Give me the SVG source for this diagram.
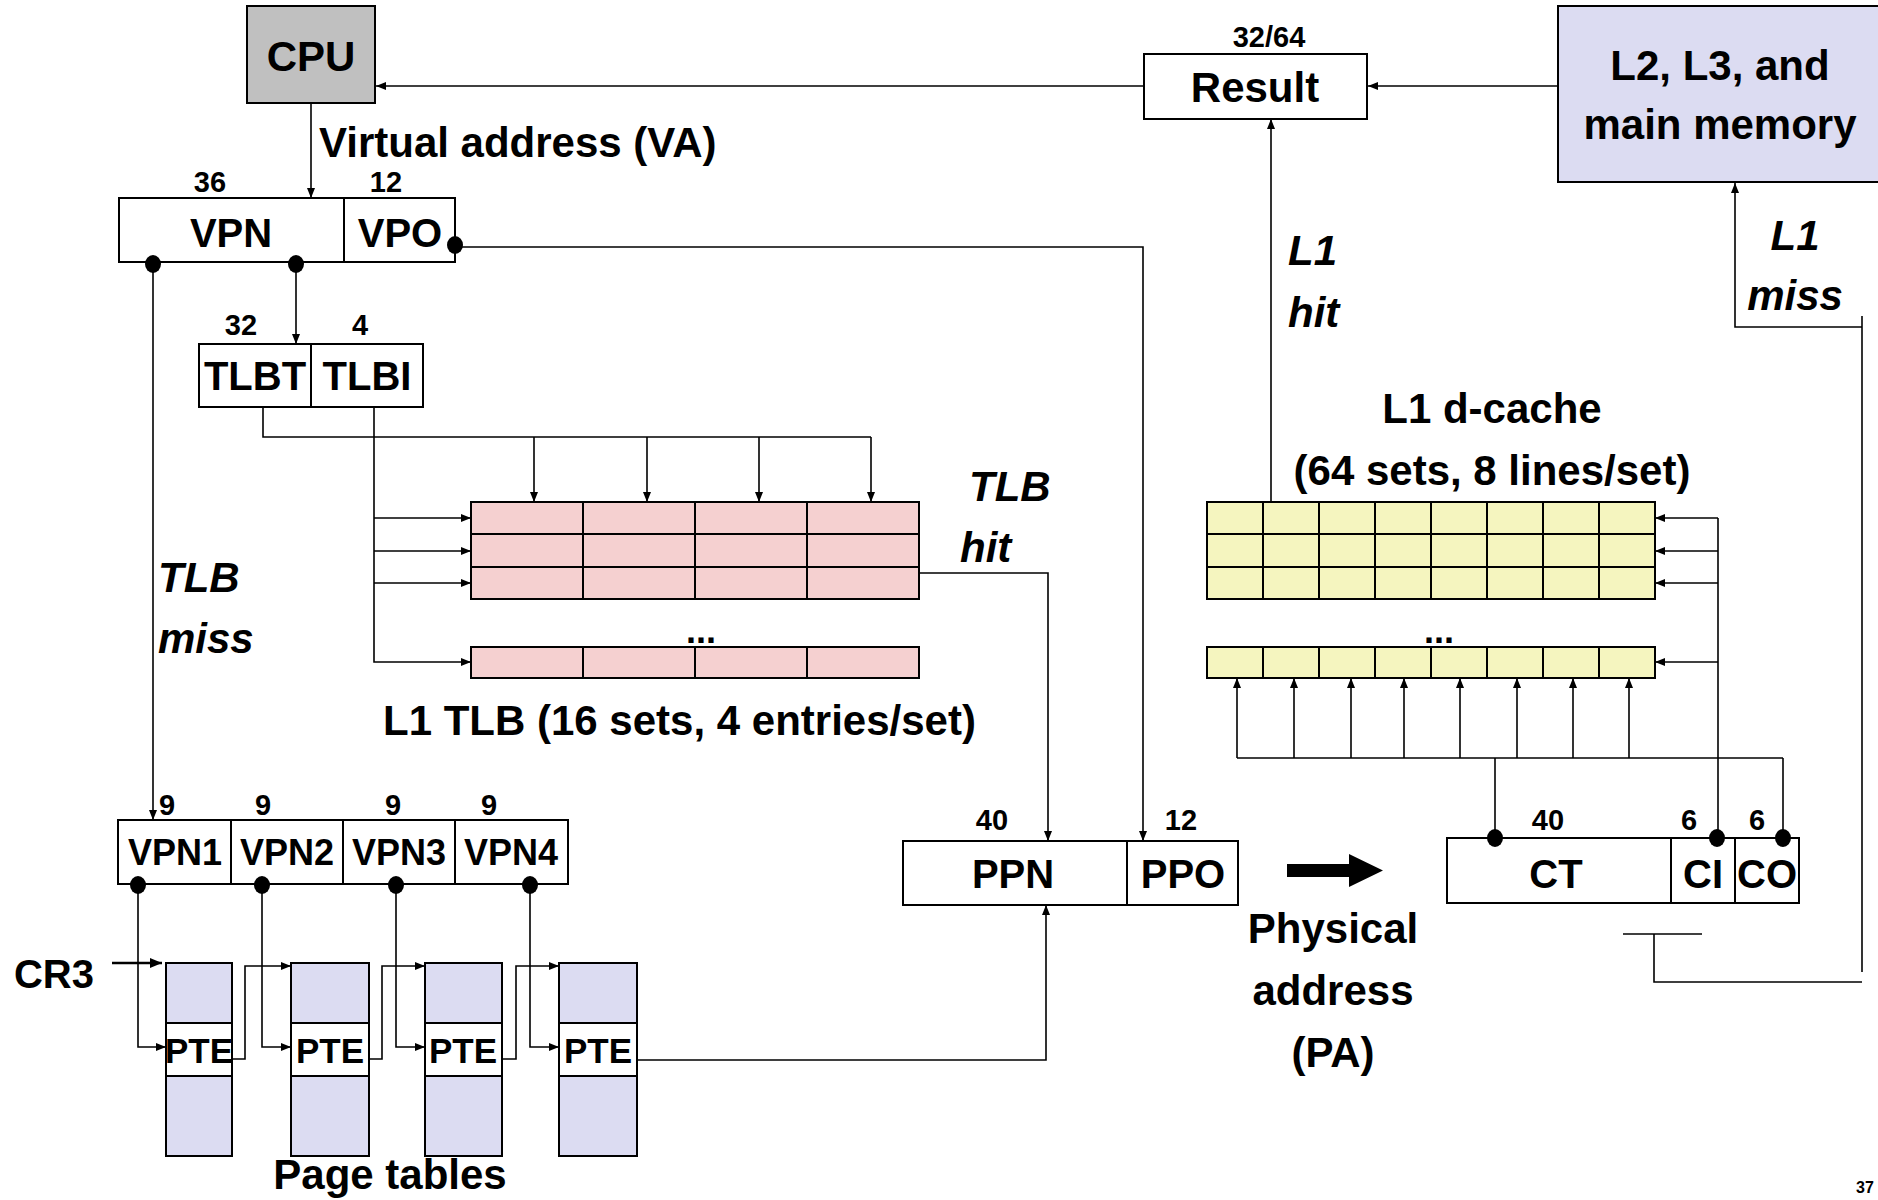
<svg xmlns="http://www.w3.org/2000/svg" width="1878" height="1200" viewBox="0 0 1878 1200">
<style>
text{font-family:"Liberation Sans",Arial,Helvetica,sans-serif;font-weight:bold;fill:#000}
.b{fill:#fff;stroke:#000;stroke-width:2}
.tl{fill:#f5d0d0;stroke:#000;stroke-width:2}
.ca{fill:#f5f5bf;stroke:#000;stroke-width:2}
.pt{fill:#dcdcf2;stroke:#000;stroke-width:2}
.c{fill:none;stroke:#000;stroke-width:1.6}
.a{marker-end:url(#ah)}
.t42{font-size:42px}
.t40{font-size:40px}
.t36{font-size:36px}
.n{font-size:29px}
.i{font-style:italic;font-size:42px}
.m{text-anchor:middle}
.d{fill:#000}
</style>
<defs>
<marker id="ah" markerUnits="userSpaceOnUse" markerWidth="10" markerHeight="8" refX="10" refY="4" orient="auto">
<path d="M0,0 L10,4 L0,8 z" fill="#000"/>
</marker>
<marker id="ahb" markerUnits="userSpaceOnUse" markerWidth="12" markerHeight="10" refX="12" refY="5" orient="auto">
<path d="M0,0 L12,5 L0,10 z" fill="#000"/>
</marker>
</defs>

<g id="connectors">
<path class="c a" d="M1144,86 H376"/>
<path class="c a" d="M1558,86 H1368"/>
<path class="c a" d="M311,103 V198"/>
<path class="c a" d="M296,262 V344"/>
<path class="c a" d="M153,262 V820"/>
<path class="c a" d="M455,247 H1143 V841"/>
<path class="c" d="M263,407 V437 H871"/>
<path class="c a" d="M534,437 V502"/>
<path class="c a" d="M647,437 V502"/>
<path class="c a" d="M759,437 V502"/>
<path class="c a" d="M871,437 V502"/>
<path class="c a" d="M374,407 V662 H471"/>
<path class="c a" d="M374,518 H471"/>
<path class="c a" d="M374,551 H471"/>
<path class="c a" d="M374,583 H471"/>
<path class="c a" d="M919,573 H1048 V841"/>
<path class="c a" d="M637,1060 H1046 V905"/>
<path class="c a" d="M138,884 V1047 H166"/>
<path class="c a" d="M262,884 V1047 H291"/>
<path class="c a" d="M396,884 V1047 H425"/>
<path class="c a" d="M530,884 V1047 H559"/>
<path class="c a" d="M232,1059 H245 V966 H291"/>
<path class="c a" d="M369,1059 H382 V966 H425"/>
<path class="c a" d="M502,1059 H516 V966 H559"/>
<path class="c" style="stroke-width:2.5;marker-end:url(#ahb)" d="M112,963 H162"/>
<path class="c a" d="M1271,502 V119"/>
<path class="c" d="M1495,838 V758"/>
<path class="c" d="M1783,838 V758"/>
<path class="c" d="M1237,758 H1783"/>
<path class="c a" d="M1237,758 V678"/>
<path class="c a" d="M1294,758 V678"/>
<path class="c a" d="M1351,758 V678"/>
<path class="c a" d="M1404,758 V678"/>
<path class="c a" d="M1460,758 V678"/>
<path class="c a" d="M1517,758 V678"/>
<path class="c a" d="M1573,758 V678"/>
<path class="c a" d="M1629,758 V678"/>
<path class="c" d="M1718,838 V518"/>
<path class="c a" d="M1718,518 H1655"/>
<path class="c a" d="M1718,551 H1655"/>
<path class="c a" d="M1718,583 H1655"/>
<path class="c a" d="M1718,662 H1655"/>
<path class="c a" d="M1862,327 H1735 V183"/>
<path class="c" d="M1862,316 V972"/>
<path class="c" d="M1862,982 H1654 V934"/>
<path class="c" d="M1623,934 H1702"/>
<path class="d" d="M1287,864 H1349 V854 L1383,870.5 L1349,887 V877 H1287 z"/>
</g>

<g id="cpu">
<rect x="247" y="6" width="128" height="97" fill="#c0c0c0" stroke="#000" stroke-width="2"/>
<text class="t42 m" x="311" y="71">CPU</text>
</g>

<g id="result">
<rect class="b" x="1144" y="54" width="223" height="65"/>
<text class="n m" x="1269" y="47">32/64</text>
<text class="t42 m" x="1255" y="102">Result</text>
</g>

<g id="memory">
<rect class="pt" x="1558" y="6" width="330" height="176"/>
<text class="t42 m" x="1720" y="80">L2, L3, and</text>
<text class="t42 m" x="1720" y="139">main memory</text>
</g>

<g id="va-label">
<text class="t42" x="319" y="157">Virtual address (VA)</text>
</g>

<g id="va">
<rect class="b" x="119" y="198" width="225" height="64"/>
<rect class="b" x="344" y="198" width="111" height="64"/>
<text class="n m" x="210" y="192">36</text>
<text class="n m" x="386" y="192">12</text>
<text class="t40 m" x="231" y="247">VPN</text>
<text class="t40 m" x="400" y="247">VPO</text>
</g>

<g id="tlbt">
<rect class="b" x="199" y="344" width="112" height="63"/>
<rect class="b" x="311" y="344" width="112" height="63"/>
<text class="n m" x="241" y="335">32</text>
<text class="n m" x="360" y="335">4</text>
<text class="t40 m" x="255" y="390">TLBT</text>
<text class="t40 m" x="367" y="390">TLBI</text>
</g>

<g id="tlb">
<rect class="tl" x="471" y="502" width="112" height="32"/>
<rect class="tl" x="583" y="502" width="112" height="32"/>
<rect class="tl" x="695" y="502" width="112" height="32"/>
<rect class="tl" x="807" y="502" width="112" height="32"/>
<rect class="tl" x="471" y="534" width="112" height="33"/>
<rect class="tl" x="583" y="534" width="112" height="33"/>
<rect class="tl" x="695" y="534" width="112" height="33"/>
<rect class="tl" x="807" y="534" width="112" height="33"/>
<rect class="tl" x="471" y="567" width="112" height="32"/>
<rect class="tl" x="583" y="567" width="112" height="32"/>
<rect class="tl" x="695" y="567" width="112" height="32"/>
<rect class="tl" x="807" y="567" width="112" height="32"/>
<rect class="tl" x="471" y="647" width="112" height="31"/>
<rect class="tl" x="583" y="647" width="112" height="31"/>
<rect class="tl" x="695" y="647" width="112" height="31"/>
<rect class="tl" x="807" y="647" width="112" height="31"/>
<text class="t36 m" x="701" y="643">...</text>
<text class="t42" x="383" y="735">L1 TLB (16 sets, 4 entries/set)</text>
</g>

<g id="tlb-miss-label">
<text class="i" x="158" y="592">TLB</text>
<text class="i" x="158" y="653">miss</text>
</g>
<g id="tlb-hit-label">
<text class="i" x="969" y="501">TLB</text>
<text class="i" x="960" y="562">hit</text>
</g>
<g id="l1-hit-label">
<text class="i" x="1288" y="265">L1</text>
<text class="i" x="1288" y="327">hit</text>
</g>
<g id="l1-miss-label">
<text class="i m" x="1795" y="250">L1</text>
<text class="i m" x="1795" y="310">miss</text>
</g>

<g id="vpn-split">
<rect class="b" x="118" y="820" width="113" height="64"/>
<rect class="b" x="231" y="820" width="112" height="64"/>
<rect class="b" x="343" y="820" width="112" height="64"/>
<rect class="b" x="455" y="820" width="113" height="64"/>
<text class="n m" x="167" y="815">9</text>
<text class="n m" x="263" y="815">9</text>
<text class="n m" x="393" y="815">9</text>
<text class="n m" x="489" y="815">9</text>
<text class="t36 m" x="175" y="865">VPN1</text>
<text class="t36 m" x="287" y="865">VPN2</text>
<text class="t36 m" x="399" y="865">VPN3</text>
<text class="t36 m" x="511" y="865">VPN4</text>
</g>

<g id="cr3">
<text class="t40 m" x="54" y="988">CR3</text>
</g>

<g id="page-tables">
<rect class="pt" x="166" y="963" width="66" height="193"/>
<rect class="b" x="166" y="1023" width="66" height="53"/>
<rect class="pt" x="291" y="963" width="78" height="193"/>
<rect class="b" x="291" y="1023" width="78" height="53"/>
<rect class="pt" x="425" y="963" width="77" height="193"/>
<rect class="b" x="425" y="1023" width="77" height="53"/>
<rect class="pt" x="559" y="963" width="78" height="193"/>
<rect class="b" x="559" y="1023" width="78" height="53"/>
<text class="m" style="font-size:35px" x="199" y="1063">PTE</text>
<text class="m" style="font-size:35px" x="330" y="1063">PTE</text>
<text class="m" style="font-size:35px" x="463" y="1063">PTE</text>
<text class="m" style="font-size:35px" x="598" y="1063">PTE</text>
<text class="t42 m" x="390" y="1189">Page tables</text>
</g>

<g id="pa">
<rect class="b" x="903" y="841" width="224" height="64"/>
<rect class="b" x="1127" y="841" width="111" height="64"/>
<text class="n m" x="992" y="830">40</text>
<text class="n m" x="1181" y="830">12</text>
<text class="t40 m" x="1013" y="888">PPN</text>
<text class="t40 m" x="1183" y="888">PPO</text>
</g>

<g id="pa-label">
<text class="t42 m" x="1333" y="943">Physical</text>
<text class="t42 m" x="1333" y="1005">address</text>
<text class="t42 m" x="1333" y="1067">(PA)</text>
</g>

<g id="cache-addr">
<rect class="b" x="1447" y="838" width="224" height="65"/>
<rect class="b" x="1671" y="838" width="64" height="65"/>
<rect class="b" x="1735" y="838" width="64" height="65"/>
<text class="n m" x="1548" y="830">40</text>
<text class="n m" x="1689" y="830">6</text>
<text class="n m" x="1757" y="830">6</text>
<text class="t40 m" x="1556" y="888">CT</text>
<text class="t40 m" x="1703" y="888">CI</text>
<text class="t40 m" x="1767" y="888">CO</text>
</g>

<g id="dcache">
<text class="t42 m" x="1492" y="423">L1 d-cache</text>
<text class="t42 m" x="1492" y="485">(64 sets, 8 lines/set)</text>
<rect class="ca" x="1207" y="502" width="56" height="32"/><rect class="ca" x="1263" y="502" width="56" height="32"/><rect class="ca" x="1319" y="502" width="56" height="32"/><rect class="ca" x="1375" y="502" width="56" height="32"/><rect class="ca" x="1431" y="502" width="56" height="32"/><rect class="ca" x="1487" y="502" width="56" height="32"/><rect class="ca" x="1543" y="502" width="56" height="32"/><rect class="ca" x="1599" y="502" width="56" height="32"/>
<rect class="ca" x="1207" y="534" width="56" height="33"/><rect class="ca" x="1263" y="534" width="56" height="33"/><rect class="ca" x="1319" y="534" width="56" height="33"/><rect class="ca" x="1375" y="534" width="56" height="33"/><rect class="ca" x="1431" y="534" width="56" height="33"/><rect class="ca" x="1487" y="534" width="56" height="33"/><rect class="ca" x="1543" y="534" width="56" height="33"/><rect class="ca" x="1599" y="534" width="56" height="33"/>
<rect class="ca" x="1207" y="567" width="56" height="32"/><rect class="ca" x="1263" y="567" width="56" height="32"/><rect class="ca" x="1319" y="567" width="56" height="32"/><rect class="ca" x="1375" y="567" width="56" height="32"/><rect class="ca" x="1431" y="567" width="56" height="32"/><rect class="ca" x="1487" y="567" width="56" height="32"/><rect class="ca" x="1543" y="567" width="56" height="32"/><rect class="ca" x="1599" y="567" width="56" height="32"/>
<rect class="ca" x="1207" y="647" width="56" height="31"/><rect class="ca" x="1263" y="647" width="56" height="31"/><rect class="ca" x="1319" y="647" width="56" height="31"/><rect class="ca" x="1375" y="647" width="56" height="31"/><rect class="ca" x="1431" y="647" width="56" height="31"/><rect class="ca" x="1487" y="647" width="56" height="31"/><rect class="ca" x="1543" y="647" width="56" height="31"/><rect class="ca" x="1599" y="647" width="56" height="31"/>
<text class="t36 m" x="1439" y="643">...</text>
</g>

<g id="junctions">
<ellipse class="d" cx="153" cy="264" rx="8" ry="9"/>
<ellipse class="d" cx="296" cy="264" rx="8" ry="9"/>
<ellipse class="d" cx="455" cy="245" rx="8" ry="9"/>
<ellipse class="d" cx="138" cy="885" rx="8" ry="9"/>
<ellipse class="d" cx="262" cy="885" rx="8" ry="9"/>
<ellipse class="d" cx="396" cy="885" rx="8" ry="9"/>
<ellipse class="d" cx="530" cy="885" rx="8" ry="9"/>
<ellipse class="d" cx="1495" cy="838" rx="8" ry="9"/>
<ellipse class="d" cx="1717" cy="838" rx="8" ry="9"/>
<ellipse class="d" cx="1783" cy="838" rx="8" ry="9"/>
</g>

<g id="page-number">
<text x="1856" y="1193" style="font-size:16px">37</text>
</g>
</svg>
